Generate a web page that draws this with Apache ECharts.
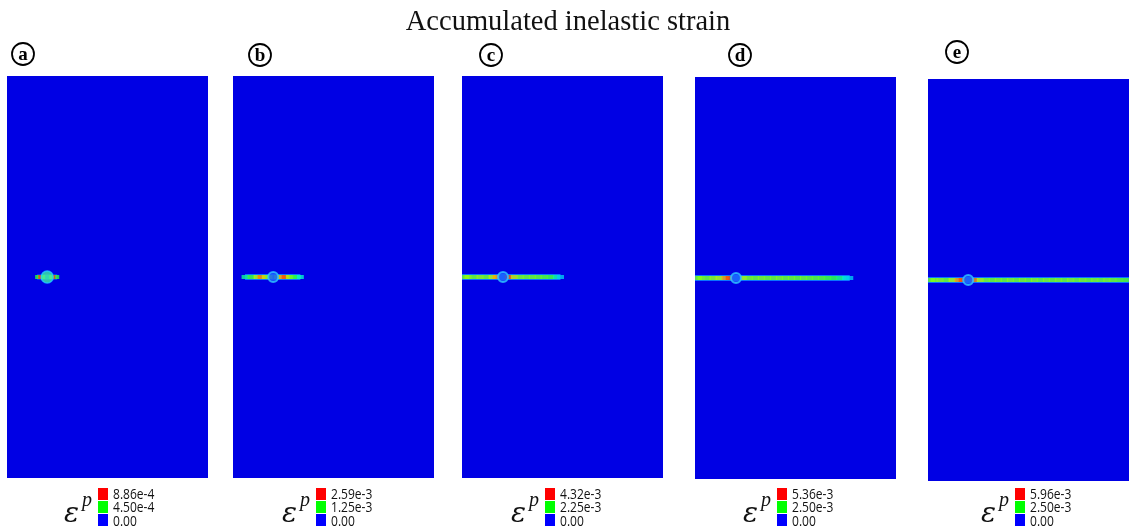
<!DOCTYPE html>
<html>
<head>
<meta charset="utf-8">
<title>Accumulated inelastic strain</title>
<script src="https://cdn.jsdelivr.net/npm/echarts@6/dist/echarts.min.js"></script>
<style>
    html, body { margin: 0; padding: 0; background: #fff; }
    #chart { width: 1136px; height: 532px; }
</style>
</head>
<body>
<div id="chart"></div>
<script>
    // 数据：每个子图的标签、图例刻度、孔位置、裂纹沿线的相对应变水平 [x, level]
    const panelNames = ['a', 'b', 'c', 'd', 'e'];
    const legendLabels = [
        ['8.86e-4', '4.50e-4', '0.00'],
        ['2.59e-3', '1.25e-3', '0.00'],
        ['4.32e-3', '2.25e-3', '0.00'],
        ['5.36e-3', '2.50e-3', '0.00'],
        ['5.96e-3', '2.50e-3', '0.00']
    ];
    const holeX = [20, 20, 20.4, 20.4, 20];
    const crackA = [[15, 0.45], [16.5, 0.95], [18, 0.6], [22, 0.6], [23.5, 0.95], [25, 0.45]];
    const crackB = [[6, 0.35], [9, 0.5], [12, 0.7], [14, 0.9], [16, 0.75], [18, 0.6], [22, 0.6],
        [24, 0.85], [26, 0.95], [28, 0.7], [30, 0.55], [32, 0.42], [33.5, 0.3]];
    const crackC = [[1.8, 0.6], [3, 0.65], [6, 0.6], [9, 0.65], [12, 0.6], [15, 0.7], [17, 0.85],
        [23, 0.95], [26, 0.75], [29, 0.62], [32, 0.6], [35, 0.6], [38, 0.58], [41, 0.55],
        [44, 0.5], [47, 0.35], [49, 0.2]];
    const crackD = [[1.8, 0.6], [3, 0.62], [6, 0.6], [9, 0.65], [12, 0.7], [15, 0.85], [17, 0.95],
        [24, 0.7], [27, 0.62], [30, 0.6], [33, 0.62], [36, 0.6], [39, 0.6], [42, 0.62],
        [45, 0.6], [48, 0.6], [51, 0.58], [54, 0.6], [57, 0.58], [60, 0.56], [63, 0.55],
        [66, 0.5], [69, 0.45], [72, 0.38], [75, 0.3], [77, 0.2]];
    const crackE = [[1.8, 0.6], [3, 0.62], [6, 0.65], [9, 0.6], [12, 0.7], [15, 0.85], [17, 0.95],
        [23, 0.9], [26, 0.7], [29, 0.62], [32, 0.6], [35, 0.62], [38, 0.6], [41, 0.63],
        [44, 0.6], [47, 0.62], [50, 0.6], [53, 0.63], [56, 0.6], [59, 0.62], [62, 0.6],
        [65, 0.62], [68, 0.6], [71, 0.63], [74, 0.6], [77, 0.62], [80, 0.6], [83, 0.62],
        [86, 0.6], [89, 0.62], [92, 0.6], [95, 0.58], [98.2, 0.56]];
    const cracks = [crackA, crackB, crackC, crackD, crackE];

    // 布局（像素）
    const panels = [
        {left: 7, top: 76, box: 98, lx: 23, ly: 54},
        {left: 233, top: 76, box: 316, lx: 260, ly: 55},
        {left: 462, top: 76, box: 545, lx: 491, ly: 55},
        {left: 695, top: 77, box: 777, lx: 740, ly: 55},
        {left: 928, top: 79, box: 1015, lx: 957, ly: 52}
    ];
    const legendColors = ['#ff0000', '#00ff00', '#0000ff'];

    let myChart = echarts.init(document.getElementById('chart'));

    let grid = [], xAxis = [], yAxis = [], series = [], graphic = [], crackSeries = [];
    panels.forEach(function (p, i) {
        grid.push({
            left: p.left, top: p.top, width: 201, height: 402,
            show: true, backgroundColor: '#0000e4', borderWidth: 0
        });
        xAxis.push({gridIndex: i, type: 'value', min: 0, max: 100, show: false});
        yAxis.push({gridIndex: i, type: 'value', min: 0, max: 200, show: false});

        let c = cracks[i];
        // 裂纹外缘（青蓝色晕）
        series.push({
            type: 'line', xAxisIndex: i, yAxisIndex: i, silent: true, symbol: 'none', z: 1,
            data: [[i > 1 ? 0 : c[0][0], 100], [i === 4 ? 100 : c[c.length - 1][0], 100]],
            lineStyle: {width: i === 0 ? 5 : 6, color: '#0a74ff', cap: 'butt'}
        });
        // 裂纹本体
        crackSeries.push(series.length);
        series.push({
            type: 'scatter', xAxisIndex: i, yAxisIndex: i, silent: true, z: 3,
            symbol: 'rect', symbolSize: i === 0 ? [4, 4] : [7, 4],
            data: c.map(function (d) { return [d[0], 100, d[1]]; })
        });
        // 孔
        series.push({
            type: 'scatter', xAxisIndex: i, yAxisIndex: i, silent: true, z: 4,
            symbol: 'circle', symbolSize: i === 0 ? 12 : 10,
            itemStyle: i === 0
                ? {color: '#3cf0a0', borderColor: '#20d0ff', borderWidth: 1.5}
                : {color: '#1a5cff', borderColor: '#30c8ff', borderWidth: 2},
            data: [[holeX[i], 100]]
        });

        // 圈字母
        graphic.push({
            type: 'circle', shape: {cx: p.lx, cy: p.ly, r: 11},
            style: {fill: 'none', stroke: '#000', lineWidth: 1.8}
        });
        graphic.push({
            type: 'text', x: p.lx, y: p.ly + 1,
            style: {text: panelNames[i], font: 'bold 19px "Liberation Serif"', fill: '#000',
                align: 'center', verticalAlign: 'middle'}
        });

        // 图例
        legendColors.forEach(function (col, k) {
            graphic.push({
                type: 'rect', shape: {x: p.box, y: 488 + k * 13, width: 10, height: 12},
                style: {fill: col}
            });
            graphic.push({
                type: 'text', x: p.box + 15, y: 495 + k * 13.5, scaleX: 0.86,
                style: {text: legendLabels[i][k], font: '14px "Open Sans"', fill: '#111',
                    align: 'left', verticalAlign: 'middle'}
            });
        });
        graphic.push({
            type: 'text', x: p.box - 34, y: 515,
            style: {text: 'ε', font: 'italic 28px "DejaVu Serif"', fill: '#111',
                align: 'left', verticalAlign: 'middle'}
        });
        graphic.push({
            type: 'text', x: p.box - 16, y: 501,
            style: {text: 'p', font: 'italic 20px "Liberation Serif"', fill: '#111',
                align: 'left', verticalAlign: 'middle'}
        });
    });

    let option = {
        backgroundColor: '#fff',
        animation: false,
        title: {
            text: 'Accumulated inelastic strain',
            left: 'center', top: 3,
            textStyle: {fontFamily: 'Liberation Serif', fontSize: 28.5, fontWeight: 'normal', color: '#111'}
        },
        visualMap: {
            type: 'continuous', show: false, min: 0, max: 1, dimension: 2,
            seriesIndex: crackSeries,
            inRange: {color: ['#0040ff', '#00b0ff', '#00f0e0', '#20ff40', '#60ff20', '#c0ff00', '#ffa000', '#ff2000']}
        },
        grid: grid,
        xAxis: xAxis,
        yAxis: yAxis,
        series: series,
        graphic: graphic
    };
    myChart.setOption(option);
</script>
</body>
</html>
